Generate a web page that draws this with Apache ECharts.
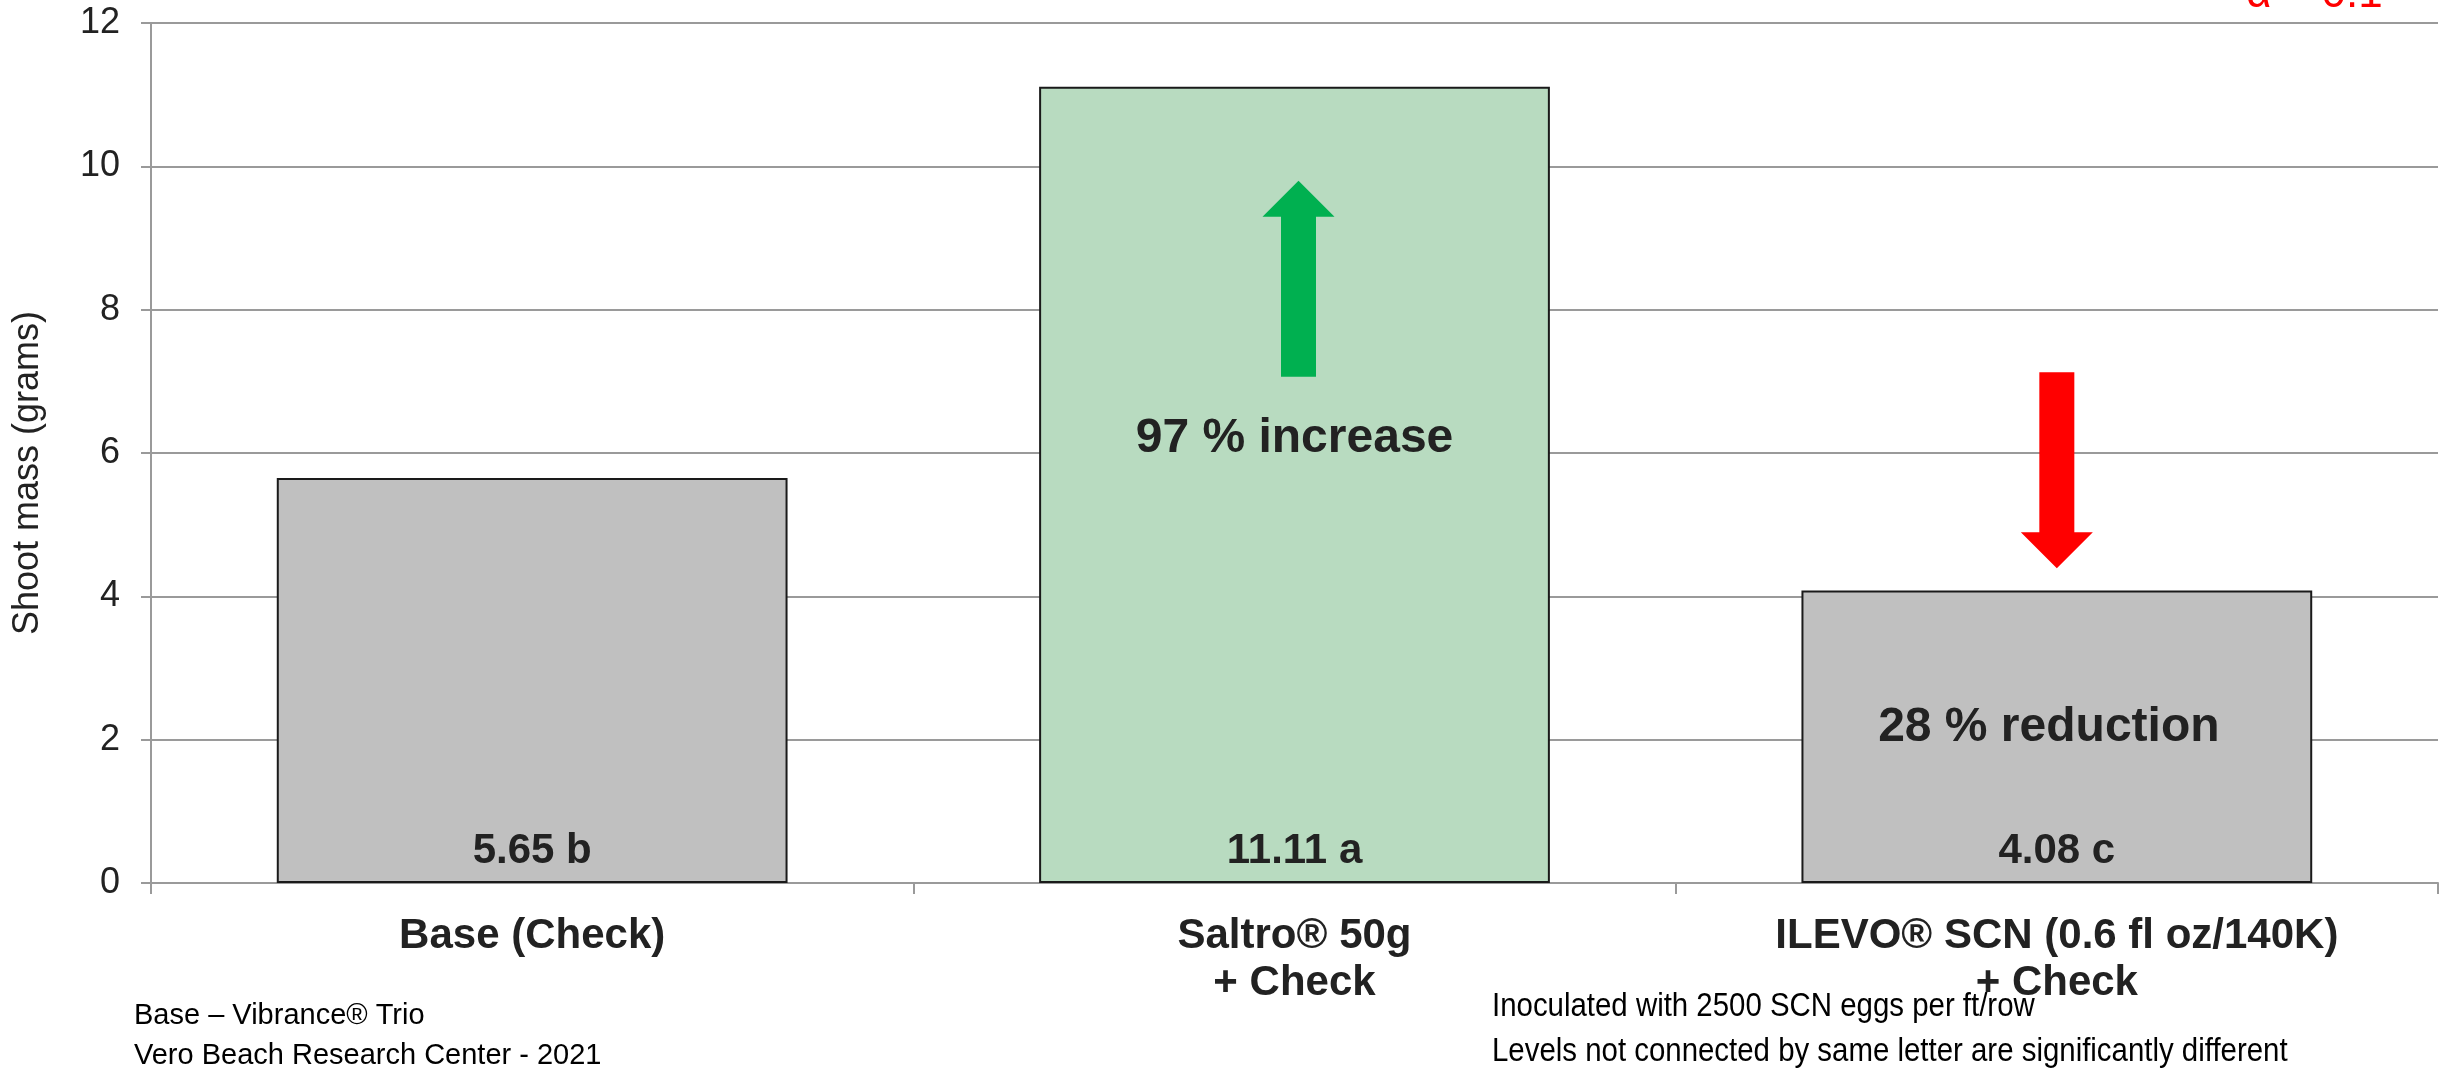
<!DOCTYPE html>
<html>
<head>
<meta charset="utf-8">
<script src="https://cdn.jsdelivr.net/npm/echarts@6/dist/echarts.min.js"></script>
<style>
html,body{margin:0;padding:0;background:#fff;}
#chart{width:2441px;height:1071px;}
</style>
</head>
<body>
<div id="chart"></div>
<script>
// ---- data ----
const categories = ['Base (Check)', 'Saltro® 50g\n+ Check', 'ILEVO® SCN (0.6 fl oz/140K)\n+ Check'];
const shootMass = [5.65, 11.11, 4.08];
const sigLetters = ['b', 'a', 'c'];
const barColors = ['#c0c0c0', '#b8dbc0', '#c0c0c0'];
const yMin = 0, yMax = 12, yStep = 2;
const yAxisTitle = 'Shoot mass (grams)';
const annoCategory = [1, 2];
const annoValue = [6.2, 2.16];
const annoText = ['97 % increase', '28 % reduction'];
const arrowCategory = [1, 2];
const arrowValue = [8.43, 5.76];
const arrowDir = ['up', 'down'];
const arrowColor = ['#00b050', '#ff0000'];
const notesLeft = ['Base – Vibrance® Trio', 'Vero Beach Research Center - 2021'];
const notesRight = ['Inoculated with 2500 SCN eggs per ft/row', 'Levels not connected by same letter are significantly different'];
const alphaText = 'α = 0.1';

// ---- chart ----
const FONT = "'Liberation Sans', Arial, Helvetica, sans-serif";
const TXT = '#222222';
const GRID = '#9a9a9a';

const upPath = 'path://M36,0L72,36L53.5,36L53.5,196L18.5,196L18.5,36L0,36Z';
const downPath = 'path://M18.5,0L53.5,0L53.5,160L72,160L36,196L0,160L18.5,160Z';

const markData = [];
annoCategory.forEach((c, i) => {
  markData.push({
    name: annoText[i],
    coord: [c, annoValue[i]],
    symbol: 'rect',
    symbolSize: [1, 1],
    itemStyle: { color: 'transparent' },
    label: { show: true, formatter: '{b}', fontSize: 48, fontWeight: 'bold', color: TXT, fontFamily: FONT, position: 'inside',
             offset: [i === 1 ? -8 : 0, 0] }
  });
});
arrowCategory.forEach((c, i) => {
  markData.push({
    name: 'arrow' + i,
    coord: [c, arrowValue[i]],
    symbol: arrowDir[i] === 'up' ? upPath : downPath,
    symbolSize: [72, 196],
    symbolKeepAspect: false,
    symbolOffset: [arrowDir[i] === 'up' ? 4 : 0, 0],
    itemStyle: { color: arrowColor[i] },
    label: { show: false }
  });
});

const chart = echarts.init(document.getElementById('chart'), null, { renderer: 'canvas' });
chart.setOption({
  animation: false,
  backgroundColor: '#ffffff',
  textStyle: { fontFamily: FONT },
  grid: { left: 151, right: 3, top: 23, bottom: 188, containLabel: false },
  xAxis: {
    type: 'category',
    data: categories,
    axisLine: { show: true, lineStyle: { color: GRID, width: 2 } },
    axisTick: { show: true, length: 11, lineStyle: { color: GRID, width: 2 } },
    axisLabel: { interval: 0, fontSize: 42, fontWeight: 'bold', color: TXT, lineHeight: 47, margin: 30, fontFamily: FONT },
    splitLine: { show: false }
  },
  yAxis: {
    type: 'value',
    min: yMin, max: yMax, interval: yStep,
    axisLine: { show: true, lineStyle: { color: GRID, width: 2 } },
    axisTick: { show: true, length: 10, lineStyle: { color: GRID, width: 2 } },
    axisLabel: { fontSize: 36, color: TXT, margin: 31, fontFamily: FONT },
    splitLine: { show: true, lineStyle: { color: GRID, width: 2 } }
  },
  series: [{
    type: 'bar',
    barCategoryGap: '33%',
    data: shootMass.map((v, i) => ({
      value: v,
      itemStyle: { color: barColors[i], borderColor: '#1a1a1a', borderWidth: 2 }
    })),
    label: {
      show: true,
      position: 'insideBottom',
      distance: 11,
      fontSize: 42,
      fontWeight: 'bold',
      color: TXT,
      fontFamily: FONT,
      formatter: p => p.value.toFixed(2) + ' ' + sigLetters[p.dataIndex]
    },
    markPoint: { silent: true, data: markData }
  }],
  graphic: [
    { type: 'text', x: 28, y: 473, rotation: Math.PI / 2,
      style: { text: yAxisTitle, fontSize: 36, fill: TXT, fontFamily: FONT, align: 'center', verticalAlign: 'middle' } },
    { type: 'text', left: 2246, top: -27, style: { text: alphaText, fontSize: 44, fill: '#ff0000', fontFamily: FONT } },
    { type: 'text', left: 134, top: 1001, style: { text: notesLeft[0], fontSize: 29, fill: '#000', fontFamily: FONT } },
    { type: 'text', left: 134, top: 1041, style: { text: notesLeft[1], fontSize: 29, fill: '#000', fontFamily: FONT } },
    { type: 'text', x: 1492, y: 990, scaleX: 0.865,
      style: { text: notesRight[0], fontSize: 34, fill: '#000', fontFamily: FONT } },
    { type: 'text', x: 1492, y: 1035, scaleX: 0.865,
      style: { text: notesRight[1], fontSize: 34, fill: '#000', fontFamily: FONT } }
  ]
});
</script>
</body>
</html>
